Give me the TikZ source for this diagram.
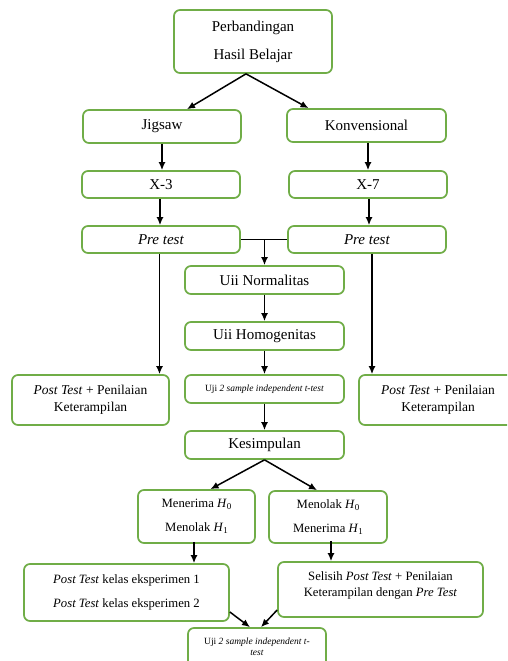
\documentclass[tikz,border=0pt]{standalone}
\usepackage{fontspec}
\setmainfont{Liberation Serif}
\usetikzlibrary{arrows.meta,calc}
\definecolor{boxgreen}{RGB}{112,173,71}
\newcommand{\Hsb}[1]{\textit{H}\raisebox{-0.35ex}{\fontsize{9}{9}\selectfont #1}}
\begin{document}
\begin{tikzpicture}[x=1pt,y=-1pt,
  box/.style={draw=boxgreen, line width=1.7pt, rounded corners=6pt, align=center, inner sep=0pt, fill=white},
  big/.style={font=\fontsize{15}{28}\selectfont},
  mid/.style={font=\fontsize{13.5}{17}\selectfont},
  low/.style={font=\fontsize{12.7}{24}\selectfont},
  tiny/.style={font=\fontsize{9.5}{11}\selectfont},
  arr/.style={-{Latex[length=8pt,width=7pt]}, line width=1.5pt},
  ln/.style={line width=1.5pt}]
\useasboundingbox (0,0) rectangle (507,661);
\clip (0,0) rectangle (507,661);
\fill[white] (0,0) rectangle (507,661);

% nodes
\node[box,big,minimum width=158pt,minimum height=63pt] (top) at (253,41.5) {Perbandingan\\Hasil Belajar};
\node[box,big,minimum width=158pt,minimum height=33pt] (jig) at (162,126.5) {Jigsaw};
\node[box,big,minimum width=159pt,minimum height=33pt] (konv) at (366.5,125.5) {Konvensional};
\node[box,big,minimum width=158pt,minimum height=27pt] (x3) at (161,184.5) {X-3};
\node[box,big,minimum width=158pt,minimum height=27pt] (x7) at (368,184.5) {X-7};
\node[box,big,minimum width=158pt,minimum height=27pt] (preL) at (161,239.5) {\textit{Pre test}};
\node[box,big,minimum width=158pt,minimum height=27pt] (preR) at (367,239.5) {\textit{Pre test}};
\node[box,big,minimum width=159pt,minimum height=28pt] (norm) at (264.5,280) {Uii Normalitas};
\node[box,big,minimum width=159pt,minimum height=28pt] (homo) at (264.5,336) {Uii Homogenitas};
\node[box,tiny,minimum width=159pt,minimum height=28pt] (uji1) at (264.5,389) {Uji \textit{2 sample independent t-test}};
\node[box,mid,minimum width=157pt,minimum height=50pt] (postL) at (90.5,400) {\textit{Post Test} + Penilaian\\Keterampilan};
\node[box,mid,minimum width=158pt,minimum height=50pt] (postR) at (438,400) {\textit{Post Test} + Penilaian\\Keterampilan};
\node[box,big,minimum width=159pt,minimum height=28pt] (kes) at (264.5,445) {Kesimpulan};
\node[box,low,minimum width=117pt,minimum height=53pt] (ter) at (196.5,516.5) {Menerima \Hsb{0}\\Menolak \Hsb{1}};
\node[box,low,minimum width=118pt,minimum height=52pt] (tol) at (328,517) {Menolak \Hsb{0}\\Menerima \Hsb{1}};
\node[box,low,minimum width=205pt,minimum height=57pt] (pk) at (126.5,592.5) {\textit{Post Test} kelas eksperimen 1\\\textit{Post Test} kelas eksperimen 2};
\node[box,minimum width=205pt,minimum height=55pt] (sel) at (380.5,589.5) {};
\node[font=\fontsize{12.7}{16}\selectfont,align=center] (seltxt) at (380.5,585) {Selisih \textit{Post Test} + Penilaian\\Keterampilan dengan \textit{Pre Test}};
\node[box,minimum width=138pt,minimum height=48pt] (uji2) at (257,652) {};
\node[tiny,align=center] (uji2txt) at (257,646.5) {Uji \textit{2 sample independent t-}\\\textit{test}};

% connectors
\draw[arr] ([xshift=-7pt]top.south) -- ([xshift=25pt]jig.north);
\draw[arr] ([xshift=-7pt]top.south) -- ([xshift=-58pt]konv.north);
\draw[arr] (jig.south) -- (jig.south |- x3.north);
\draw[arr] (x7.north |- konv.south) -- (x7.north);
\draw[arr] ([xshift=-1pt]x3.south) -- ([xshift=-1pt]preL.north);
\draw[arr] ([xshift=1pt]x7.south) -- ([xshift=2pt]preR.north);
\draw[ln] (preL.east) -- (preR.west);
\coordinate (jn) at (norm.north |- preL.east);
\draw[arr] (jn) -- (norm.north);
\draw[arr] (norm.south) -- (homo.north);
\draw[arr] (homo.south) -- (uji1.north);
\draw[arr] (uji1.south) -- (kes.north);
\draw[arr] ([xshift=-1.5pt]preL.south) -- ([xshift=-1.5pt]preL.south |- postL.north);
\draw[arr] ([xshift=5pt]preR.south) -- ([xshift=5pt]preR.south |- postR.north);
\draw[arr] (kes.south) -- ([xshift=14pt]ter.north);
\draw[arr] (kes.south) -- ([xshift=-11pt]tol.north);
\draw[arr] ([xshift=-2.5pt,yshift=2pt]ter.south) -- ([xshift=-2.5pt]ter.south |- pk.north);
\draw[arr] ([xshift=3pt,yshift=3pt]tol.south) -- ([xshift=3pt]tol.south |- sel.north);
\draw[arr] ($(pk.east)+(0,19.5)$) -- ([xshift=-7pt]uji2.north);
\draw[arr] ($(sel.west)+(0,20.5)$) -- ([xshift=4pt]uji2.north);
\end{tikzpicture}
\end{document}
